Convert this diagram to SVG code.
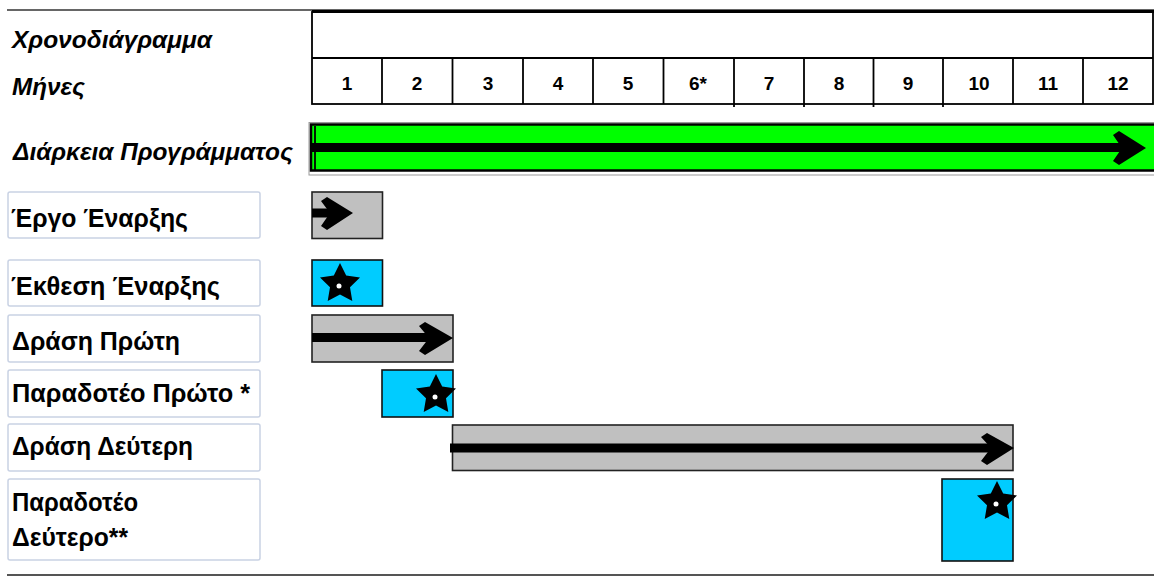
<svg xmlns="http://www.w3.org/2000/svg" width="1154" height="576" viewBox="0 0 1154 576">
<defs>
<style>
.t{font-family:"Liberation Sans",Arial,sans-serif;font-weight:bold;fill:#000}
.h{font-size:24px;font-style:italic}
.l{font-size:25px}
.m{font-size:19px;text-anchor:middle}
.lbl{fill:#fff;stroke:#c9d2e4;stroke-width:1.5}
.gray{fill:#c0c0c0;stroke:#222;stroke-width:1.6}
.blue{fill:#00ccff;stroke:#111;stroke-width:1.6}
.grid{stroke:#000;stroke-width:1.8;fill:none}
.shaft{stroke:#000;stroke-width:9;fill:none}
</style>
<polygon id="star" points="0,-21 6.2,-8.5 20,-6.5 10,3.3 12.3,17 0,10.5 -12.3,17 -10,3.3 -20,-6.5 -6.2,-8.5" fill="#000"/>
</defs>
<rect width="1154" height="576" fill="#fff"/>

<g id="frame">
<line x1="7" y1="10" x2="1154" y2="10" stroke="#333" stroke-width="1.5"/>
<line x1="7" y1="575" x2="1154" y2="575" stroke="#555" stroke-width="1.8"/>
</g>

<g id="header">
<rect x="312" y="12" width="841" height="92" class="grid"/>
<line x1="312" y1="11.5" x2="1154" y2="11.5" stroke="#000" stroke-width="3"/>
<line x1="312" y1="58" x2="1153" y2="58" class="grid"/>
<line x1="382" y1="58" x2="382" y2="104" class="grid"/>
<line x1="452.5" y1="58" x2="452.5" y2="104" class="grid"/>
<line x1="523" y1="58" x2="523" y2="104" class="grid"/>
<line x1="593" y1="58" x2="593" y2="104" class="grid"/>
<line x1="663.5" y1="58" x2="663.5" y2="104" class="grid"/>
<line x1="734" y1="58" x2="734" y2="107" class="grid"/>
<line x1="804" y1="58" x2="804" y2="107" class="grid"/>
<line x1="873.5" y1="58" x2="873.5" y2="107" class="grid"/>
<line x1="943" y1="58" x2="943" y2="107" class="grid"/>
<line x1="1013" y1="58" x2="1013" y2="104" class="grid"/>
<line x1="1083" y1="58" x2="1083" y2="104" class="grid"/>
<text class="t h" x="12" y="48" textLength="200" lengthAdjust="spacingAndGlyphs">Χρονοδιάγραμμα</text>
<text class="t h" x="12" y="95" textLength="73" lengthAdjust="spacingAndGlyphs">Μήνες</text>
<text class="t m" x="347" y="90">1</text>
<text class="t m" x="417" y="90">2</text>
<text class="t m" x="488" y="90">3</text>
<text class="t m" x="558" y="90">4</text>
<text class="t m" x="628" y="90">5</text>
<text class="t m" x="698" y="90">6*</text>
<text class="t m" x="769" y="90">7</text>
<text class="t m" x="839" y="90">8</text>
<text class="t m" x="908" y="90">9</text>
<text class="t m" x="979" y="90">10</text>
<text class="t m" x="1048" y="90">11</text>
<text class="t m" x="1118" y="90">12</text>
</g>

<g id="duration">
<text class="t h" x="13" y="160" textLength="280" lengthAdjust="spacingAndGlyphs">Διάρκεια Προγράμματος</text>
<rect x="309" y="122.5" width="846" height="52.5" fill="none" stroke="#999" stroke-width="1"/>
<rect x="311" y="124.5" width="845" height="46" fill="#00ff00" stroke="#000" stroke-width="2.5"/>
<line x1="315" y1="126" x2="315" y2="170" stroke="#000" stroke-width="1.8"/>
</g>

<g id="task-ergo">
<rect x="8" y="192" width="252" height="46" rx="2" class="lbl"/>
<text class="t l" x="11" y="227" textLength="177" lengthAdjust="spacingAndGlyphs">Έργο Έναρξης</text>
<rect x="312" y="192" width="70.5" height="46.5" class="gray"/>
</g>

<g id="task-ekthesi">
<rect x="8" y="260" width="252" height="46" rx="2" class="lbl"/>
<text class="t l" x="11" y="295" textLength="209" lengthAdjust="spacingAndGlyphs">Έκθεση Έναρξης</text>
<rect x="312" y="260" width="70.5" height="46" class="blue"/>
<use href="#star" x="340" y="284"/>
<circle cx="339" cy="286" r="2.5" fill="#fff"/>
</g>

<g id="task-drasi1">
<rect x="8" y="315" width="252" height="47" rx="2" class="lbl"/>
<text class="t l" x="12" y="350" textLength="168" lengthAdjust="spacingAndGlyphs">Δράση Πρώτη</text>
<rect x="312" y="315" width="141" height="47" class="gray"/>
</g>

<g id="task-paradoteo1">
<rect x="8" y="370" width="252" height="47" rx="2" class="lbl"/>
<text class="t l" x="12" y="402" textLength="238" lengthAdjust="spacingAndGlyphs">Παραδοτέο Πρώτο *</text>
<rect x="382" y="370" width="71" height="47" class="blue"/>
<use href="#star" x="436" y="395"/>
<circle cx="435" cy="397" r="2.5" fill="#fff"/>
</g>

<g id="task-drasi2">
<rect x="8" y="424" width="252" height="47" rx="2" class="lbl"/>
<text class="t l" x="12" y="455" textLength="181" lengthAdjust="spacingAndGlyphs">Δράση Δεύτερη</text>
<rect x="452.5" y="425" width="560.5" height="45.5" class="gray"/>
</g>

<g id="task-paradoteo2">
<rect x="8" y="479" width="252" height="81" rx="2" class="lbl"/>
<text class="t l" x="12" y="511" textLength="126" lengthAdjust="spacingAndGlyphs">Παραδοτέο</text>
<text class="t l" x="12" y="546" textLength="116" lengthAdjust="spacingAndGlyphs">Δεύτερο**</text>
<rect x="942" y="479" width="71" height="82" class="blue"/>
<use href="#star" x="997" y="502"/>
<circle cx="996" cy="504" r="2.5" fill="#fff"/>
</g>

<g id="connectors">
<line x1="312" y1="147.5" x2="1132" y2="147.5" class="shaft"/>
<polygon points="1113,135 1119,131 1146,148 1119,165 1113,161 1122,148" fill="#000"/>
<line x1="312" y1="213" x2="338" y2="213" class="shaft"/>
<polygon points="321,201 327,197 353,213 327,230 321,226 330,213" fill="#000"/>
<line x1="312" y1="337.5" x2="440" y2="337.5" class="shaft"/>
<polygon points="419,326 425,322 453,338 425,355 419,351 429,338" fill="#000"/>
<line x1="450" y1="448" x2="1000" y2="448" class="shaft"/>
<polygon points="981,437 987,433 1014,448 987,465 981,461 991,448" fill="#000"/>
</g>
</svg>
